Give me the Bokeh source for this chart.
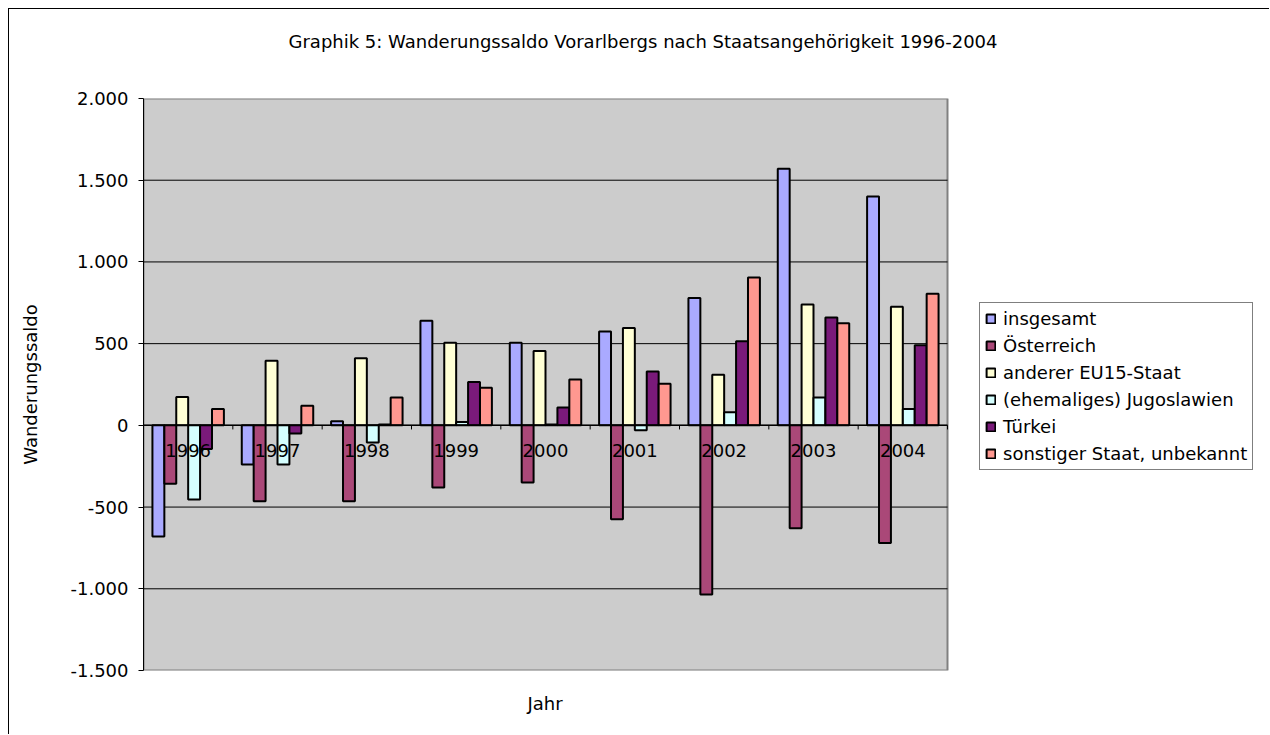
from bokeh.plotting import figure
from bokeh.models import Range1d, FixedTicker, Legend, LegendItem, ColumnDataSource, Title
from bokeh.transform import dodge
from bokeh.core.properties import value
from bokeh.embed import file_html
from bokeh.resources import INLINE

# ---------------- data ----------------
years = [1996, 1997, 1998, 1999, 2000, 2001, 2002, 2003, 2004]
year_labels = [str(y) for y in years]
insgesamt = [-680, -240, 25, 640, 505, 575, 780, 1570, 1400]
oesterreich = [-357, -465, -465, -380, -350, -575, -1035, -630, -720]
eu15 = [173, 395, 410, 505, 455, 595, 310, 740, 725]
jugoslawien = [-453, -240, -105, 20, 5, -30, 80, 170, 100]
tuerkei = [-145, -50, 5, 265, 110, 330, 515, 660, 490]
sonstige = [100, 120, 170, 230, 280, 255, 905, 625, 805]

series_names = ["insgesamt", "Österreich", "anderer EU15-Staat",
                "(ehemaliges) Jugoslawien", "Türkei", "sonstiger Staat, unbekannt"]
series_keys = ["insgesamt", "oesterreich", "eu15", "jugoslawien", "tuerkei", "sonstige"]
colors = ["#AAAAFF", "#AA4878", "#FFFFD5", "#D5FFFF", "#7A1A7A", "#FF9890"]

y_ticks = [-1500, -1000, -500, 0, 500, 1000, 1500, 2000]
y_tick_labels = ["-1.500", "-1.000", "-500", "0", "500", "1.000", "1.500", "2.000"]

title_text = "Graphik 5: Wanderungssaldo Vorarlbergs nach Staatsangehörigkeit 1996-2004"
x_label = "Jahr"
y_label = "Wanderungssaldo"

FONT = "DejaVu Sans"
FS = "18px"

# ---------------- layout ----------------
W, H = 1261, 726
LEFT, TOP, BOTTOM = 134, 89, 65
PLOT_W = 804            # width of the grey plot area in px
FRAME_W = W - LEFT      # frame spans to the right edge so the legend can live inside it

x0 = years[0] - 0.5
x1 = years[-1] + 0.5
x_end = x0 + (x1 - x0) * FRAME_W / PLOT_W

src = ColumnDataSource(dict(year=years, label=year_labels, insgesamt=insgesamt,
                            oesterreich=oesterreich, eu15=eu15, jugoslawien=jugoslawien,
                            tuerkei=tuerkei, sonstige=sonstige, zero=[0] * len(years)))

p = figure(width=W, height=H, output_backend="svg", toolbar_location=None,
           x_range=Range1d(x0, x_end), y_range=Range1d(y_ticks[0], y_ticks[-1]),
           x_axis_location=None,
           min_border_left=LEFT, min_border_right=0, min_border_top=TOP, min_border_bottom=BOTTOM)
p.styles = {"margin-left": "8px", "margin-top": "8px",
            "border-left": "1px solid black", "border-top": "1px solid black"}
p.background_fill_color = "white"
p.border_fill_color = "white"
p.outline_line_color = None

# title (extra blank lines lift it away from the plot area)
p.title.text = title_text + "\n \n "
p.title.align = "left"
p.title.offset = 145
p.title.vertical_align = "top"
p.title.standoff = 6
p.title.text_font = FONT
p.title.text_font_size = FS
p.title.text_font_style = "normal"
p.title.text_color = "black"

# x axis title, centred under the grey plot area
p.add_layout(Title(text=" \n" + x_label, align="left", offset=384, vertical_align="top",
                   standoff=2, text_font=FONT, text_font_size=FS, text_font_style="normal",
                   text_color="black"), "below")

# grey plot area
p.quad(left=[x0], right=[x1], bottom=[y_ticks[0]], top=[y_ticks[-1]],
       fill_color="#CCCCCC", line_color="#808080", line_width=2)

# grid lines
p.xgrid.visible = False
p.ygrid.visible = False
inner = y_ticks[1:-1]
p.segment(x0=[x0] * len(inner), x1=[x1] * len(inner), y0=inner, y1=inner,
          line_color="black", line_width=1)

# y axis
ya = p.yaxis[0]
ya.ticker = FixedTicker(ticks=y_ticks)
ya.major_label_overrides = dict(zip(y_ticks, y_tick_labels))
ya.major_tick_out = 5
ya.major_tick_in = 0
ya.minor_tick_line_color = None
ya.axis_line_color = "black"
ya.major_tick_line_color = "black"
ya.major_label_standoff = 10
ya.major_label_text_font = FONT
ya.major_label_text_font_size = FS
ya.major_label_text_color = "black"
ya.axis_label = y_label
ya.axis_label_standoff = 26
ya.axis_label_text_font = FONT
ya.axis_label_text_font_size = FS
ya.axis_label_text_font_style = "normal"
ya.axis_label_text_color = "black"

# bars
n = len(series_keys)
bw = 1.0 / (n + 1.5)
renderers = []
for i, (k, c) in enumerate(zip(series_keys, colors)):
    off = (i - (n - 1) / 2) * bw
    r = p.vbar(x=dodge("year", off, range=p.x_range), top=k, bottom=0, width=bw, source=src,
               fill_color=c, line_color="black", line_width=2)
    renderers.append(r)

# zero (category) axis line and tick marks
p.line(x=[x0, x1], y=[0, 0], line_color="black", line_width=1.5)
bounds = [y - 0.5 for y in years] + [x1]
p.segment(x0=bounds, y0=[0] * len(bounds), x1=bounds, y1=[-25] * len(bounds),
          line_color="black", line_width=1)

# category labels next to the zero line
p.text(x="year", y="zero", text="label", source=src, text_align="center",
       text_baseline="middle", y_offset=25, text_font=value(FONT), text_font_size=FS,
       text_color="black")

legend = Legend(items=[LegendItem(label=nm, renderers=[r]) for nm, r in zip(series_names, renderers)],
                location=(836, 200), border_line_color="black", border_line_width=1,
                background_fill_color="white", background_fill_alpha=1.0,
                label_text_font=FONT, label_text_font_size=FS, label_text_color="black",
                glyph_width=11, glyph_height=11, label_height=20, spacing=6, padding=5,
                margin=0, label_standoff=7)
p.add_layout(legend, "center")

open("out.html", "w").write(file_html(p, INLINE))
